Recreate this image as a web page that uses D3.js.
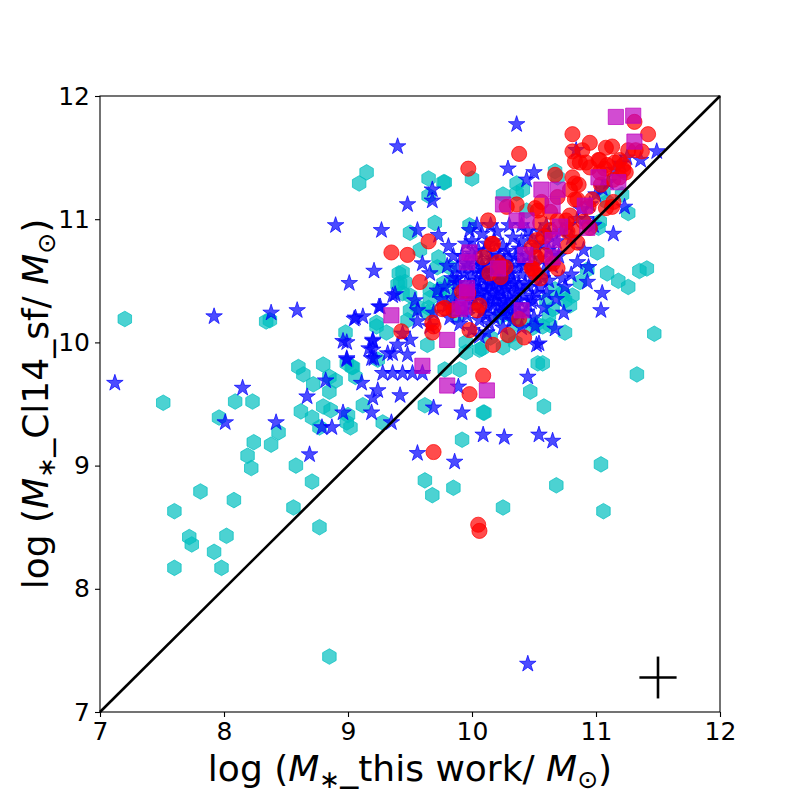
<!DOCTYPE html>
<html lang="en">
<head>
  <meta charset="UTF-8">
  <title>Stellar mass comparison</title>
  <style>
    body { margin: 0; background: #fff; }
    svg text { font-family: "DejaVu Sans", sans-serif; fill: #000; }
  </style>
</head>
<body>
  <svg id="chart" width="800" height="800"></svg>
  <script src="https://d3js.org/d3.v7.min.js"></script>
  <script>
    // axis ticks
    const xTicks = [7, 8, 9, 10, 11, 12];
    const yTicks = [7, 8, 9, 10, 11, 12];

    // cyan hexagons
    const hexPts = [
      [7.20,10.19],[7.51,9.51],[7.60,8.63],[7.60,8.17],[7.72,8.42],[7.74,8.36],[7.81,8.79],[7.92,8.30],
      [7.98,8.17],[8.02,8.43],[8.08,8.72],[7.96,9.39],[8.09,9.52],[8.23,9.52],[8.19,9.08],[8.22,8.98],
      [8.24,9.19],[8.44,9.27],[8.38,9.17],[8.34,10.17],[8.37,10.18],[8.58,9.00],[8.56,8.66],[8.77,8.50],
      [8.71,8.87],[8.60,9.80],[8.64,9.74],[8.80,9.82],[8.85,9.72],[8.90,9.69],[8.72,9.66],[8.85,9.60],
      [8.62,9.44],[8.71,9.39],[8.80,9.48],[8.86,9.45],[8.77,9.31],[8.98,10.08],[8.99,9.83],[8.99,9.35],
      [8.85,7.45],[9.15,11.38],[9.09,11.29],[9.23,10.13],[9.31,10.08],[9.03,9.80],[9.41,10.56],[9.40,10.47],
      [9.65,11.33],[9.77,11.30],[9.65,11.19],[10.00,11.33],[9.70,10.97],[9.50,10.89],[9.44,10.57],[9.42,10.48],
      [9.44,10.40],[9.73,10.69],[10.36,11.29],[10.25,11.20],[10.36,11.21],[10.44,11.07],[9.50,10.26],[9.65,10.28],
      [9.23,10.16],[9.48,10.18],[9.72,10.61],[9.82,10.61],[9.85,10.49],[9.77,10.48],[9.74,10.40],[9.82,10.37],
      [9.66,10.43],[9.50,10.38],[9.64,9.98],[9.62,9.49],[9.90,9.78],[9.78,9.78],[10.09,9.43],[9.92,9.21],
      [10.47,9.60],[10.08,9.95],[10.25,9.96],[10.35,10.00],[10.15,10.04],[9.02,9.31],[9.00,9.41],[9.12,9.49],
      [9.28,9.35],[9.06,9.72],[9.04,9.80],[9.56,10.29],[9.64,10.24],[9.66,10.36],[9.46,10.49],[9.74,10.43],
      [10.23,10.21],[10.33,10.21],[10.49,10.12],[10.53,9.83],[9.62,8.88],[9.68,8.76],[9.85,8.82],[10.25,8.66],
      [11.09,10.56],[11.18,10.50],[11.26,10.45],[11.35,10.58],[11.41,10.60],[11.47,10.07],[11.33,9.74],[10.57,9.83],
      [10.58,9.48],[10.10,9.43],[11.04,9.01],[10.68,8.84],[11.06,8.63],[10.75,10.08],[10.62,10.22],[10.63,10.14],
      [10.79,10.30],[10.81,10.38],[10.73,10.40],[10.60,10.34],[10.67,10.43],[10.41,10.18],[10.36,10.15],[9.78,11.30],
      [10.67,11.39],[10.69,11.34],[10.41,11.24],[11.06,11.22],[11.09,11.14],[11.21,11.20],[11.26,11.05],[11.01,10.73],
      [11.02,10.93],[11.03,10.98],[10.75,10.34],[10.87,10.49],[10.93,10.59],[10.65,10.27],[10.52,10.15],[10.57,10.13],
      [10.06,9.94],[9.95,9.92],[9.24,9.86],[9.88,10.22],[9.95,10.00],[10.30,10.05],[9.58,10.75],[9.98,10.95]
    ];

    // blue stars
    const starPts = [
      [7.12,9.67],[7.92,10.21],[8.01,9.35],[8.15,9.63],[8.38,10.24],[8.42,9.35],[8.59,10.26],[8.67,9.56],
      [8.69,9.09],[8.82,9.69],[8.79,9.31],[8.87,9.31],[8.90,10.95],[9.27,10.91],[9.01,10.48],[9.21,10.58],
      [9.40,11.59],[9.36,10.38],[9.05,10.19],[9.12,10.21],[9.25,10.29],[8.96,10.01],[9.20,10.01],[9.17,9.95],
      [9.21,9.87],[8.99,9.87],[9.32,9.91],[9.48,11.12],[9.68,11.24],[9.68,11.15],[10.36,11.77],[10.29,11.41],
      [10.44,11.32],[10.50,11.38],[9.56,10.91],[9.73,10.87],[9.81,10.78],[9.60,10.64],[9.66,10.56],[9.54,10.34],
      [9.72,10.42],[9.88,10.52],[9.98,10.91],[10.04,10.95],[9.69,10.24],[9.56,10.26],
      [10.45,9.72],[10.52,9.98],[9.92,9.43],[10.09,9.25],[10.26,9.23],[9.56,9.10],[9.86,9.03],[9.69,9.47],
      [9.42,9.57],[9.19,9.43],[9.35,9.35],[8.96,9.43],[9.89,9.64],[8.99,10.00],[8.99,9.86],[9.28,9.75],
      [9.36,9.75],[9.44,9.75],[9.52,9.75],[9.60,9.75],[9.11,9.67],[9.24,9.61],[9.20,9.55],[9.36,9.91],
      [9.48,9.90],[9.40,9.98],[9.20,10.02],[9.20,9.94],[9.19,9.87],[9.38,10.39],[9.26,10.29],[9.06,10.20],
      [9.56,10.17],[9.66,10.13],[9.50,10.02],[9.44,10.07],
      [10.94,10.61],[10.93,10.49],[11.05,10.40],[11.04,10.26],[10.73,10.52],[10.74,10.24],[10.67,10.11],[10.51,10.13],
      [10.54,9.99],[10.54,9.25],[10.65,9.20],[10.25,10.25],[10.49,10.36],[11.49,11.55],[11.36,11.48],[11.23,11.10],
      [11.14,10.88],[10.84,11.56],[10.45,7.39],
      [9.80,10.30],[9.85,10.36],[9.90,10.42],[9.95,10.48],[9.88,10.60],[9.92,10.70],[9.97,10.62],[10.00,10.55],
      [10.02,10.45],[10.05,10.38],[10.03,10.30],[10.08,10.25],[10.10,10.33],[10.12,10.42],[10.15,10.50],[10.10,10.58],
      [10.07,10.66],[10.05,10.75],[10.12,10.80],[10.18,10.72],[10.20,10.64],[10.22,10.56],[10.18,10.46],[10.20,10.38],
      [10.17,10.30],[10.22,10.22],[10.27,10.28],[10.30,10.36],[10.28,10.44],[10.32,10.52],[10.27,10.60],[10.30,10.68],
      [10.25,10.78],[10.33,10.85],[10.38,10.76],[10.36,10.62],[10.40,10.55],[10.38,10.46],[10.42,10.38],[10.36,10.30],
      [10.44,10.25],[10.48,10.33],[10.46,10.45],[10.50,10.52],[10.47,10.62],[10.44,10.70],[10.52,10.78],[10.55,10.68],
      [10.58,10.58],[10.55,10.45],[10.60,10.40],[10.62,10.50],[10.65,10.62],[10.62,10.75],[10.68,10.82],[10.70,10.70],
      [10.72,10.90],[10.78,10.95],[10.80,10.85],[10.85,11.00],[10.88,11.08],[10.92,11.00],[10.95,11.12],[11.00,11.20],
      [11.05,11.25],[11.10,11.30],[11.15,11.40],[11.20,11.45],[11.25,11.50],[10.98,10.95],[10.60,10.95],[10.55,10.90],
      [10.45,10.90],[10.40,10.95],[10.30,10.95],[10.20,10.90],[10.15,10.95],[10.08,10.88],[10.00,10.82],[9.95,10.80],
      [9.85,10.70],[9.80,10.62],[9.78,10.45],[9.75,10.35],[9.82,10.20],[9.90,10.15],[9.96,10.22],[10.00,10.10],
      [10.06,10.05],[10.14,10.15],[10.12,10.08],[10.25,10.12],[10.32,10.18],[10.40,10.12],[10.50,10.20],[10.58,10.28],
      [10.68,10.35],[10.75,10.45],[10.80,10.55],[10.85,10.65],[10.90,10.75],[10.14,10.62],[10.24,10.50],[10.34,10.40],
      [10.08,10.52],[10.16,10.40],[10.26,10.34],[10.42,10.62],[10.35,10.70],[10.02,10.68],[9.94,10.56],[9.98,10.38],
      [10.10,10.45],[10.20,10.55],[10.30,10.60],[10.28,10.50],[10.12,10.36],[10.04,10.60],
      [9.86,10.28],[9.92,10.33],[9.97,10.30],[10.01,10.36],[10.06,10.42],[10.04,10.50],[10.09,10.56],[10.14,10.47],
      [10.19,10.34],[10.23,10.42],[10.26,10.47],[10.22,10.30],[10.29,10.32],[10.33,10.27],[10.38,10.34],[10.34,10.48],
      [10.31,10.56],[10.26,10.65],[10.22,10.70],[10.15,10.68],[10.10,10.74],[10.16,10.58],[10.06,10.18],[10.11,10.22],
      [10.18,10.20],[10.28,10.22],[10.38,10.24],[10.45,10.30],[10.52,10.40],[10.43,10.48],[10.40,10.66],[10.48,10.72],
      [10.50,10.62],[10.57,10.52],[9.93,10.26],[9.99,10.44],[10.13,10.28],[10.24,10.39],[10.36,10.42],[10.21,10.48],
      [10.08,10.62],[9.95,10.64],[10.00,10.72],[10.18,10.82],[10.28,10.74],[10.40,10.82],[10.48,10.85],[10.58,10.80],
      [10.62,10.88],[10.66,10.72],[9.88,10.48],[9.84,10.52]
    ];

    // red circles
    const circlePts = [
      [9.97,11.41],[10.38,11.53],[9.35,10.73],[9.48,10.71],[9.65,10.82],[9.58,10.49],[9.43,10.09],[9.69,10.13],
      [9.68,10.08],[9.76,10.27],[9.98,10.10],[9.92,10.41],[10.06,10.30],[10.13,10.99],[10.17,10.80],[10.14,10.56],
      [10.23,10.62],[10.29,10.06],[10.42,10.04],[10.38,10.19],[9.69,9.11],[9.98,9.58],[10.09,9.73],[10.05,8.52],
      [10.06,8.47],[10.49,10.60],[10.55,10.52],[10.51,11.09],[10.63,11.06],[10.67,11.36],[10.81,11.69],[10.83,11.29],
      [10.89,11.56],[10.95,11.62],[11.03,11.48],[11.07,11.41],[11.13,11.59],[11.19,11.48],[11.22,11.40],[11.31,11.79],
      [11.42,11.69],[11.32,11.56],[11.13,11.10],[11.08,11.09],[10.83,11.16],[10.76,10.99],[10.58,10.86],[10.59,10.71],
      [10.77,10.78],[10.90,10.98],[10.97,11.16],[11.04,11.28],[10.69,10.60],
      [10.81,11.55],[10.83,11.47],[10.87,11.46],[11.08,11.58],[11.26,11.56],[11.37,11.55],[10.92,11.46],[11.02,11.48],
      [11.09,11.44],[11.15,11.46],[11.22,11.44],[11.24,11.38],[11.19,11.34],[11.14,11.32],[11.03,11.38],[10.95,11.42],
      [10.81,11.34],[10.86,11.28],[10.79,11.24],[10.69,11.18],[10.85,11.16],[10.94,11.10],[11.14,11.14],
      [10.56,11.14],[10.53,11.07],[10.36,11.12],[10.28,11.10],[10.79,11.03],[10.69,10.99],[10.55,10.97],[10.63,10.91],
      [10.77,10.90],[10.85,10.81],[10.81,10.91],[10.95,10.93],[10.16,10.80],[10.52,10.83],[10.48,10.77],[10.52,10.69],
      [10.48,10.60],[10.09,10.69],[10.21,10.65],[10.27,10.61],[10.23,10.53],[10.51,10.56],[10.65,10.64],[9.97,10.40],
      [10.04,10.26],[9.78,10.28],[9.85,10.26],[9.68,10.16],[10.17,9.98]
    ];

    // magenta squares
    const squarePts = [
      [9.35,10.22],[9.60,9.81],[9.80,9.65],[10.12,9.61],[9.98,10.73],[9.96,10.65],[10.21,10.60],[10.25,11.12],
      [10.36,10.99],[10.44,10.99],[10.56,11.24],[10.69,11.24],[10.65,11.11],[10.91,11.11],[10.93,10.93],[10.71,10.94],
      [10.65,10.83],[10.43,10.71],[10.65,10.69],[10.40,10.26],[9.90,10.27],[11.16,11.83],[11.30,11.84],[11.31,11.63],
      [11.02,11.34],[11.18,11.30],[9.96,10.41],[9.93,10.29],[9.80,10.02],[9.96,10.44]
    ];

    // typical uncertainty shown in the corner
    const errPoint = { x: 11.5, y: 7.28, xerr: 0.15, yerr: 0.17 };

    const svg = d3.select("#chart");
    const margin = { left: 100, top: 96, right: 80, bottom: 88 };
    const W = 800 - margin.left - margin.right;
    const H = 800 - margin.top - margin.bottom;

    const x = d3.scaleLinear().domain([7, 12]).range([0, W]);
    const y = d3.scaleLinear().domain([7, 12]).range([H, 0]);

    const g = svg.append("g").attr("transform", `translate(${margin.left},${margin.top})`);

    function hexPath(r) {
      let p = "";
      for (let i = 0; i < 6; i++) {
        const a = (-90 + 60 * i) * Math.PI / 180;
        p += (i ? "L" : "M") + (r * Math.cos(a)).toFixed(2) + "," + (r * Math.sin(a)).toFixed(2);
      }
      return p + "Z";
    }

    function drawSeries(pts, d, color) {
      g.append("g").selectAll("path")
        .data(pts)
        .enter().append("path")
        .attr("d", d)
        .attr("transform", p => `translate(${x(p[0])},${y(p[1])})`)
        .attr("fill", color)
        .attr("fill-opacity", 0.7)
        .attr("stroke", color)
        .attr("stroke-opacity", 0.7)
        .attr("stroke-width", 1);
    }

    drawSeries(hexPts, hexPath(7.8), "#00bfbf");
    drawSeries(starPts, d3.symbol().type(d3.symbolStar).size(85)(), "#0000ff");
    drawSeries(circlePts, d3.symbol().type(d3.symbolCircle).size(180)(), "#ff0000");
    drawSeries(squarePts, d3.symbol().type(d3.symbolSquare).size(230)(), "#bf00bf");

    // one-to-one line
    g.append("line")
      .attr("x1", x(7)).attr("y1", y(7))
      .attr("x2", x(12)).attr("y2", y(12))
      .attr("stroke", "#000").attr("stroke-width", 2.6);

    // error cross
    g.append("line")
      .attr("x1", x(errPoint.x - errPoint.xerr)).attr("x2", x(errPoint.x + errPoint.xerr))
      .attr("y1", y(errPoint.y)).attr("y2", y(errPoint.y))
      .attr("stroke", "#000").attr("stroke-width", 2.6);
    g.append("line")
      .attr("x1", x(errPoint.x)).attr("x2", x(errPoint.x))
      .attr("y1", y(errPoint.y - errPoint.yerr)).attr("y2", y(errPoint.y + errPoint.yerr))
      .attr("stroke", "#000").attr("stroke-width", 2.6);

    // axes
    const xAxis = g.append("g")
      .attr("transform", `translate(0,${H})`)
      .call(d3.axisBottom(x).tickValues(xTicks).tickSize(5).tickPadding(5).tickFormat(d3.format("d")));
    const yAxis = g.append("g")
      .call(d3.axisLeft(y).tickValues(yTicks).tickSize(5).tickPadding(5).tickFormat(d3.format("d")));
    [xAxis, yAxis].forEach(a => {
      a.select(".domain").remove();
      a.selectAll("line").attr("stroke", "#000").attr("stroke-width", 1.1);
      a.selectAll("text").style("font-size", "25px").attr("fill", "#000");
    });

    // frame
    g.append("rect")
      .attr("width", W).attr("height", H)
      .attr("fill", "none").attr("stroke", "#000").attr("stroke-width", 1.1);

    // axis titles with mathtext-like pieces
    function mathLabel(sel, parts) {
      parts.forEach(p => {
        const t = sel.append("tspan").text(p.t);
        if (p.it) t.style("font-style", "italic");
        if (p.sub) t.style("font-size", "25px").attr("dy", 7);
        if (p.up) t.attr("dy", -7);
      });
    }

    const xl = svg.append("text")
      .attr("x", margin.left + W / 2).attr("y", 781)
      .attr("text-anchor", "middle")
      .style("font-size", "36px");
    mathLabel(xl, [
      { t: "log (" }, { t: "M", it: true }, { t: "\u2217", sub: true },
      { t: "_this work/ ", up: true }, { t: "M", it: true }, { t: "\u2299", sub: true }, { t: ")", up: true }
    ]);

    const yl = svg.append("text")
      .attr("transform", `translate(48,${margin.top + H / 2}) rotate(-90)`)
      .attr("text-anchor", "middle")
      .style("font-size", "36px");
    mathLabel(yl, [
      { t: "log (" }, { t: "M", it: true }, { t: "\u2217", sub: true },
      { t: "_Cl14_sf/ ", up: true }, { t: "M", it: true }, { t: "\u2299", sub: true }, { t: ")", up: true }
    ]);
  </script>
</body>
</html>
